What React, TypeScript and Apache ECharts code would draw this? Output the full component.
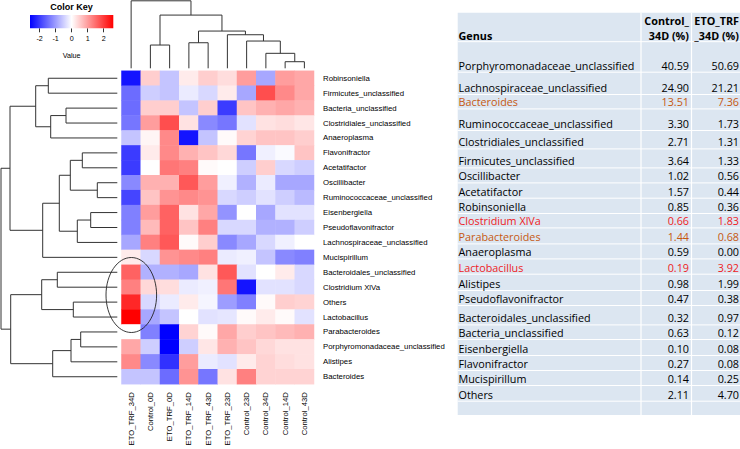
import React, { useEffect, useRef } from 'react';
import * as echarts from 'echarts';

// ---------- DATA ----------
const sampleNames = ['ETO_TRF_34D', 'Control_0D', 'ETO_TRF_0D', 'ETO_TRF_14D', 'ETO_TRF_43D', 'ETO_TRF_23D', 'Control_23D', 'Control_34D', 'Control_14D', 'Control_43D'];

const genusRows = ['Robinsoniella', 'Firmicutes_unclassified', 'Bacteria_unclassified', 'Clostridiales_unclassified', 'Anaeroplasma', 'Flavonifractor', 'Acetatifactor', 'Oscillibacter', 'Ruminococcaceae_unclassified', 'Eisenbergiella', 'Pseudoflavonifractor', 'Lachnospiraceae_unclassified', 'Mucispirillum', 'Bacteroidales_unclassified', 'Clostridium XlVa', 'Others', 'Lactobacillus', 'Parabacteroides', 'Porphyromonadaceae_unclassified', 'Alistipes', 'Bacteroides'];

// z-scores, one row per genus (same order as genusRows), one value per sample (same order as sampleNames)
const zScores = [
  [-2.4, 0.5, -0.6, 0.2, 0.5, 0.35, 1.0, -0.9, 1.0, 0.9],
  [-1.5, -0.5, -0.6, -0.2, -0.4, 0.2, -0.9, 1.8, 1.2, 0.9],
  [-1.5, 0.5, 0.5, -0.6, 0.5, -2.0, 0.6, 0.8, 0.9, 0.8],
  [-1.4, 1.0, 1.8, 0.3, -1.2, -1.4, -0.3, 0.3, 0.35, 0.25],
  [-0.6, 0.1, 1.2, -2.4, -0.6, 0.05, 0.45, 0.6, 0.6, 0.5],
  [-2.0, 0.2, 1.2, 0.8, 0.6, 0.4, -1.4, -0.15, -0.05, 0.6],
  [-2.0, 0.0, 1.4, 1.3, 0.05, 0.0, -0.5, 0.5, -0.4, -0.5],
  [-1.2, 0.8, 0.8, 1.7, 1.0, -0.15, -0.8, -0.2, -0.9, -0.9],
  [-1.9, 0.6, 1.1, 1.2, 1.1, -0.4, -0.5, -0.3, -0.5, -0.7],
  [-1.3, 1.0, 1.6, 0.3, 0.9, -1.1, 0.0, -0.9, -0.3, -0.3],
  [-1.3, 0.7, 1.6, 0.6, 1.3, -0.4, -0.4, -0.8, -0.8, -0.5],
  [-0.9, 1.3, 1.7, 0.05, 0.5, -1.2, -0.9, -0.4, -0.15, 0.0],
  [0.2, -0.4, 1.1, 1.2, 1.3, -0.2, -0.15, -0.6, -1.2, -1.3],
  [1.6, -0.8, -0.8, -0.9, 0.3, 1.7, -0.3, 0.0, 0.2, -0.4],
  [1.3, 0.4, 0.35, -0.2, -0.15, 1.4, -2.4, -0.3, -0.3, -0.4],
  [2.2, -0.4, -0.2, 0.2, -0.1, -1.0, -1.3, 0.05, 0.5, 0.45],
  [2.6, -0.9, -0.6, 0.0, -0.3, -0.25, 0.05, 0.2, 0.05, -0.3],
  [0.0, -1.3, -2.6, 0.45, 0.05, 0.9, 0.5, 0.6, 0.7, 0.8],
  [0.9, -0.5, -2.6, -0.5, 0.25, 0.8, 0.6, 0.4, 0.3, 0.3],
  [1.2, -1.2, -2.1, 1.0, -0.2, -0.3, 0.2, 0.45, 0.35, 0.3],
  [-0.6, -0.6, -1.5, 1.1, -1.4, 0.3, 1.3, 0.45, 0.45, 0.45],
];

// row dendrogram merges: [childA, childB, height]; string = leaf, number = earlier merge index
const rowMerges: [string | number, string | number, number][] = [
  ['Robinsoniella', 'Firmicutes_unclassified', 6.9],
  ['Bacteria_unclassified', 'Clostridiales_unclassified', 5.13],
  [1, 'Anaeroplasma', 6.66],
  [0, 2, 8.16],
  ['Flavonifractor', 'Acetatifactor', 3.5],
  ['Oscillibacter', 'Ruminococcaceae_unclassified', 2.0],
  [4, 5, 4.7],
  ['Eisenbergiella', 'Pseudoflavonifractor', 2.66],
  [7, 'Lachnospiraceae_unclassified', 4.0],
  [6, 8, 5.8],
  [9, 'Mucispirillum', 7.46],
  [3, 10, 10.73],
  ['Bacteroidales_unclassified', 'Clostridium XlVa', 6.0],
  ['Others', 'Lactobacillus', 4.4],
  [12, 13, 7.56],
  ['Parabacteroides', 'Porphyromonadaceae_unclassified', 3.66],
  [15, 'Alistipes', 4.63],
  [16, 'Bacteroides', 6.46],
  [14, 17, 10.66],
  [11, 18, 11.63],
];

// column dendrogram merges
const colMerges: [string | number, string | number, number][] = [
  ['Control_14D', 'Control_43D', 0.66],
  ['Control_34D', 0, 1.5],
  ['Control_23D', 1, 2.73],
  ['ETO_TRF_23D', 2, 3.36],
  ['ETO_TRF_14D', 'ETO_TRF_43D', 2.56],
  [4, 3, 3.73],
  ['Control_0D', 'ETO_TRF_0D', 2.33],
  [6, 5, 5.33],
  ['ETO_TRF_34D', 7, 6.76],
];

const keyTicks = [-2, -1, 0, 1, 2];
const keyRange = [-2.6, 2.6];

// table
const tableGenus = ['Porphyromonadaceae_unclassified', 'Lachnospiraceae_unclassified', 'Bacteroides', 'Ruminococcaceae_unclassified', 'Clostridiales_unclassified', 'Firmicutes_unclassified', 'Oscillibacter', 'Acetatifactor', 'Robinsoniella', 'Clostridium XlVa', 'Parabacteroides', 'Anaeroplasma', 'Lactobacillus', 'Alistipes', 'Pseudoflavonifractor', 'Bacteroidales_unclassified', 'Bacteria_unclassified', 'Eisenbergiella', 'Flavonifractor', 'Mucispirillum', 'Others'];
const control34D = [40.59, 24.90, 13.51, 3.30, 2.71, 3.64, 1.02, 1.57, 0.85, 0.66, 1.44, 0.59, 0.19, 0.98, 0.47, 0.32, 0.63, 0.10, 0.27, 0.14, 2.11];
const eto34D = [50.69, 21.21, 7.36, 1.73, 1.31, 1.33, 0.56, 0.44, 0.36, 1.83, 0.68, 0.00, 3.92, 1.99, 0.38, 0.97, 0.12, 0.08, 0.08, 0.25, 4.70];
const orangeGenus = ['Bacteroides', 'Parabacteroides'];
const redGenus = ['Clostridium XlVa', 'Lactobacillus'];

// ---------- LAYOUT ----------
const HM = { left: 121.5, top: 70.8, width: 192.5, height: 313.4 };
const tableRowY = [65, 87.3, 101.7, 123.3, 141.7, 160.7, 175.7, 191, 206.3, 220.7, 236.7, 251.7, 267, 283.3, 298.3, 317.7, 332.3, 348.3, 363.3, 378.3, 394];
const TB = { left: 457.7, right: 740, top: 12.7, bottom: 415, col1: 641, col2: 691.5 };
const tableFont = '"Open Sans", "Noto Sans", sans-serif';
const plotFont = '"Liberation Sans", Arial, sans-serif';

function buildDendro(merges: [string | number, string | number, number][], leaves: string[]) {
  const nodes: { pos: number; h: number }[] = [];
  const info = (ref: string | number) =>
    typeof ref === 'string' ? { pos: leaves.indexOf(ref), h: 0 } : nodes[ref];
  return merges.map(([a, b, h]) => {
    const A = info(a);
    const B = info(b);
    nodes.push({ pos: (A.pos + B.pos) / 2, h });
    return [A.h, A.pos, h, B.pos, B.h];
  });
}

export default function App() {
  const ref = useRef<HTMLDivElement>(null);

  useEffect(() => {
    if (!ref.current) return;
    const chart = echarts.init(ref.current, undefined, { renderer: 'svg' });

    const heatData: number[][] = [];
    zScores.forEach((row, r) => row.forEach((v, c) => heatData.push([c, r, v])));

    const rowDendro = buildDendro(rowMerges, genusRows);
    const colDendro = buildDendro(colMerges, sampleNames);

    const lineStyle = { stroke: '#333333', lineWidth: 1, fill: null };

    const graphics: any[] = [];
    graphics.push({
      type: 'text', x: 71.5, y: 7,
      style: { text: 'Color Key', font: `bold 9px ${plotFont}`, fill: '#000', align: 'center', verticalAlign: 'middle' },
    });
    graphics.push({
      type: 'ellipse', shape: { cx: 131.3, cy: 295, rx: 25.3, ry: 37.5 },
      style: { fill: null, stroke: '#222', lineWidth: 0.9 }, z: 10,
    });
    graphics.push({
      type: 'rect', shape: { x: TB.left, y: TB.top, width: TB.right - TB.left, height: TB.bottom - TB.top },
      style: { fill: '#DCE6F1' },
    });
    const hLines = [41.7, ...tableRowY.map((y) => y + 7.2)];
    hLines.forEach((y) => graphics.push({
      type: 'line', shape: { x1: TB.left, y1: y, x2: TB.right, y2: y },
      style: { stroke: '#FFFFFF', lineWidth: 1 },
    }));
    [TB.col1, TB.col2].forEach((x) => graphics.push({
      type: 'line', shape: { x1: x, y1: TB.top, x2: x, y2: TB.bottom },
      style: { stroke: '#FFFFFF', lineWidth: 1.2 },
    }));
    const hdr = (text: string, x: number, y: number, align: string) => graphics.push({
      type: 'text', x, y,
      style: { text, font: `bold 10.8px ${tableFont}`, fill: '#000', align, verticalAlign: 'middle' },
    });
    hdr('Genus', 458.5, 35, 'left');
    hdr('Control_', 689, 20.7, 'right');
    hdr('34D (%)', 689, 35, 'right');
    hdr('ETO_TRF', 739, 20.7, 'right');
    hdr('_34D (%)', 739, 35, 'right');
    tableGenus.forEach((g, i) => {
      const color = orangeGenus.includes(g) ? '#C65911' : redGenus.includes(g) ? '#EE1C25' : '#000000';
      const y = tableRowY[i];
      const mk = (text: string, x: number, align: string) => graphics.push({
        type: 'text', x, y,
        style: { text, font: `10.8px ${tableFont}`, fill: color, align, verticalAlign: 'middle' },
      });
      mk(g, 458.5, 'left');
      mk(control34D[i].toFixed(2), 689, 'right');
      mk(eto34D[i].toFixed(2), 739, 'right');
    });

    chart.setOption({
      animation: false,
      textStyle: { fontFamily: plotFont },
      grid: [
        { ...HM },
        { left: 1, top: HM.top, width: 116.3, height: HM.height },
        { left: HM.left, top: 0.8, width: HM.width, height: 67.5 },
        { left: 30, top: 15, width: 83.3, height: 13.3 },
      ],
      xAxis: [
        {
          type: 'category', gridIndex: 0, data: sampleNames, position: 'bottom',
          axisLine: { show: false }, axisTick: { show: false }, splitLine: { show: false },
          axisLabel: { rotate: 90, interval: 0, fontSize: 7.7, margin: 8, color: '#000', fontFamily: plotFont },
        },
        { type: 'value', gridIndex: 1, min: 0, max: 11.63, inverse: true, show: false },
        { type: 'value', gridIndex: 2, min: -0.5, max: 9.5, show: false },
        {
          type: 'value', gridIndex: 3, min: keyRange[0], max: keyRange[1], position: 'bottom',
          axisLine: { show: false }, splitLine: { show: false },
          axisTick: { show: true, customValues: keyTicks, length: 4, lineStyle: { color: '#000', width: 0.8 } },
          axisLabel: { customValues: keyTicks, fontSize: 7.2, margin: 7, color: '#000', fontFamily: plotFont },
          name: 'Value', nameLocation: 'middle', nameGap: 24,
          nameTextStyle: { fontSize: 7.2, color: '#000', fontFamily: plotFont },
        },
      ],
      yAxis: [
        {
          type: 'category', gridIndex: 0, data: genusRows, inverse: true, position: 'right',
          axisLine: { show: false }, axisTick: { show: false }, splitLine: { show: false },
          axisLabel: { interval: 0, fontSize: 7.8, margin: 9, color: '#000', fontFamily: plotFont },
        },
        { type: 'value', gridIndex: 1, min: -0.5, max: 20.5, inverse: true, show: false },
        { type: 'value', gridIndex: 2, min: 0, max: 6.76, show: false },
        { type: 'value', gridIndex: 3, min: 0, max: 1, show: false },
      ],
      visualMap: {
        show: false, type: 'continuous', min: keyRange[0], max: keyRange[1], dimension: 2, seriesIndex: 0,
        inRange: { color: ['#0000FF', '#FFFFFF', '#FF0000'] },
      },
      series: [
        { type: 'heatmap', xAxisIndex: 0, yAxisIndex: 0, data: heatData, itemStyle: { borderWidth: 0 } },
        {
          type: 'custom', xAxisIndex: 1, yAxisIndex: 1, data: rowDendro, silent: true,
          renderItem: (_p: any, api: any) => {
            const hA = api.value(0), pA = api.value(1), h = api.value(2), pB = api.value(3), hB = api.value(4);
            return {
              type: 'polyline',
              shape: { points: [api.coord([hA, pA]), api.coord([h, pA]), api.coord([h, pB]), api.coord([hB, pB])] },
              style: lineStyle,
            };
          },
        },
        {
          type: 'custom', xAxisIndex: 2, yAxisIndex: 2, data: colDendro, silent: true,
          renderItem: (_p: any, api: any) => {
            const hA = api.value(0), pA = api.value(1), h = api.value(2), pB = api.value(3), hB = api.value(4);
            return {
              type: 'polyline',
              shape: { points: [api.coord([pA, hA]), api.coord([pA, h]), api.coord([pB, h]), api.coord([pB, hB])] },
              style: lineStyle,
            };
          },
        },
        {
          type: 'custom', xAxisIndex: 3, yAxisIndex: 3, data: [[keyRange[0], keyRange[1]]], silent: true,
          renderItem: (_p: any, api: any) => {
            const p0 = api.coord([api.value(0), 1]);
            const p1 = api.coord([api.value(1), 0]);
            return {
              type: 'rect',
              shape: { x: p0[0], y: p0[1], width: p1[0] - p0[0], height: p1[1] - p0[1] },
              style: {
                fill: new echarts.graphic.LinearGradient(0, 0, 1, 0, [
                  { offset: 0, color: '#0000FF' }, { offset: 0.5, color: '#FFFFFF' }, { offset: 1, color: '#FF0000' },
                ]),
              },
            };
          },
        },
      ],
      graphic: graphics,
    });

    return () => chart.dispose();
  }, []);

  return <div ref={ref} style={{ position: 'fixed', left: 0, top: 0, width: 740, height: 449, background: '#fff' }} />;
}
